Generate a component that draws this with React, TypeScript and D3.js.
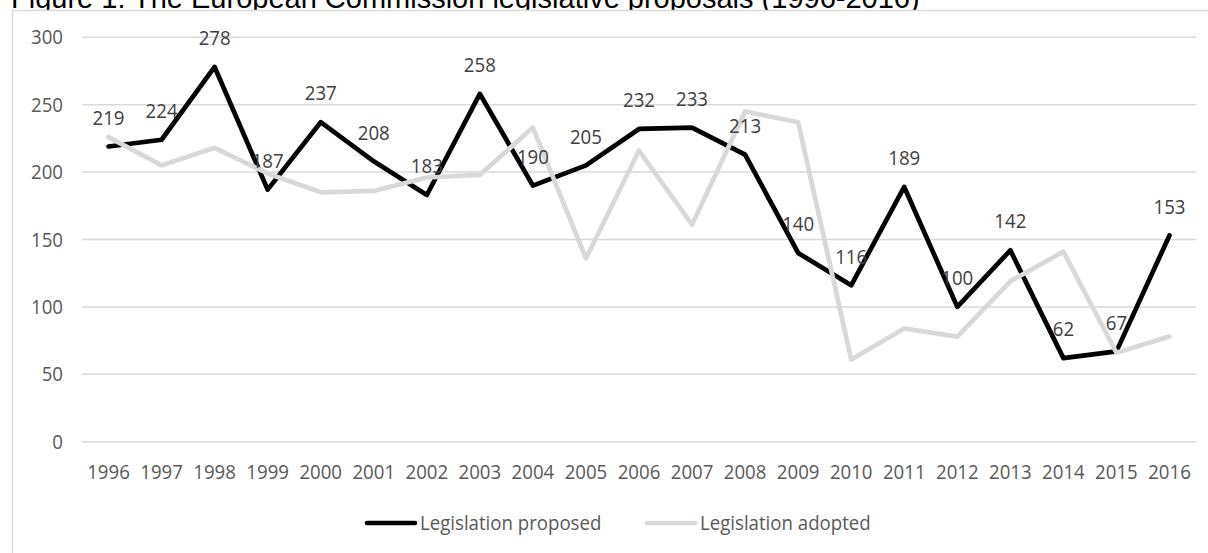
import React, { useEffect, useRef } from 'react';
import * as d3 from 'd3';

const years = [
  '1996', '1997', '1998', '1999', '2000', '2001', '2002', '2003', '2004', '2005', '2006',
  '2007', '2008', '2009', '2010', '2011', '2012', '2013', '2014', '2015', '2016',
];

const proposed = [219, 224, 278, 187, 237, 208, 183, 258, 190, 205, 232, 233, 213, 140, 116, 189, 100, 142, 62, 67, 153];

const adopted = [226, 205, 218, 199, 185, 186, 196, 198, 233, 136, 216, 161, 245, 237, 61, 84, 78, 119, 141, 66, 78];

const yTicks = [0, 50, 100, 150, 200, 250, 300];

const seriesNames = ['Legislation proposed', 'Legislation adopted'];

const App: React.FC = () => {
  const svgRef = useRef<SVGSVGElement>(null);

  useEffect(() => {
    if (!svgRef.current) return;
    document.body.style.margin = '0';

    const svg = d3.select(svgRef.current);
    svg.selectAll('*').remove();

    const width = 1208;
    const height = 553;
    svg.attr('width', width).attr('height', height);

    const font = '"Open Sans", "Noto Sans", sans-serif';
    const fontSize = 20.5;
    const squeeze = 0.91; // label glyphs are narrower than Open Sans

    // title, mostly cut off at the top of the picture
    svg.append('text')
      .attr('x', 11)
      .attr('y', 8)
      .style('font-family', '"Liberation Sans", Arial, sans-serif')
      .style('font-size', '29px')
      .style('fill', '#000')
      .text('Figure 1: The European Commission legislative proposals (1996-2016)');

    // chart area border
    svg.append('rect')
      .attr('x', 12.5)
      .attr('y', 10.5)
      .attr('width', 1400)
      .attr('height', 700)
      .attr('fill', '#fff')
      .attr('stroke', '#d9d9d9')
      .attr('stroke-width', 1.5);

    const xScale = d3.scaleBand<string>()
      .domain(years)
      .range([82, 1196]);

    const yScale = d3.scaleLinear()
      .domain([0, 300])
      .range([441.7, 37.3]);

    const cx = (y: string) => (xScale(y) || 0) + xScale.bandwidth() / 2;

    const addText = (
      g: d3.Selection<any, any, any, any>,
      x: number,
      y: number,
      txt: string,
      anchor: string,
      color: string
    ) => {
      g.append('text')
        .attr('transform', `translate(${x}, ${y}) scale(${squeeze}, 1)`)
        .attr('dy', '0.35em')
        .style('text-anchor', anchor)
        .style('font-family', font)
        .style('font-size', `${fontSize}px`)
        .style('fill', color)
        .text(txt);
    };

    // gridlines
    svg.append('g')
      .selectAll('line')
      .data(yTicks)
      .enter()
      .append('line')
      .attr('x1', 82)
      .attr('x2', 1196)
      .attr('y1', d => yScale(d))
      .attr('y2', d => yScale(d))
      .attr('stroke', '#d9d9d9')
      .attr('stroke-width', 1.5);

    // y axis labels
    const yAxis = svg.append('g');
    yTicks.forEach(t => addText(yAxis, 63, yScale(t), String(t), 'end', '#595959'));

    // x axis labels
    const xAxis = svg.append('g');
    years.forEach(y => addText(xAxis, cx(y), 471.7, y, 'middle', '#595959'));

    const line = d3.line<number>()
      .x((_, i) => cx(years[i]))
      .y(d => yScale(d));

    const colors = ['#000000', '#d9d9d9'];

    [proposed, adopted].forEach((values, i) => {
      svg.append('path')
        .datum(values)
        .attr('d', line)
        .attr('fill', 'none')
        .attr('stroke', colors[i])
        .attr('stroke-width', 4.7)
        .attr('stroke-linejoin', 'round')
        .attr('stroke-linecap', 'round');
    });

    // data labels for proposed legislation
    const labels = svg.append('g');
    proposed.forEach((v, i) => addText(labels, cx(years[i]), yScale(v) - 29, String(v), 'middle', '#404040'));

    // legend
    const legend = svg.append('g');
    const legendItems = [
      { x: 365, name: seriesNames[0], color: colors[0] },
      { x: 645, name: seriesNames[1], color: colors[1] },
    ];
    legendItems.forEach(item => {
      legend.append('line')
        .attr('x1', item.x + 2)
        .attr('x2', item.x + 50)
        .attr('y1', 523)
        .attr('y2', 523)
        .attr('stroke', item.color)
        .attr('stroke-width', 4.7)
        .attr('stroke-linecap', 'round');
      addText(legend, item.x + 55, 523, item.name, 'start', '#595959');
    });
  }, []);

  return <svg ref={svgRef} style={{ display: 'block' }}></svg>;
};

export default App;
